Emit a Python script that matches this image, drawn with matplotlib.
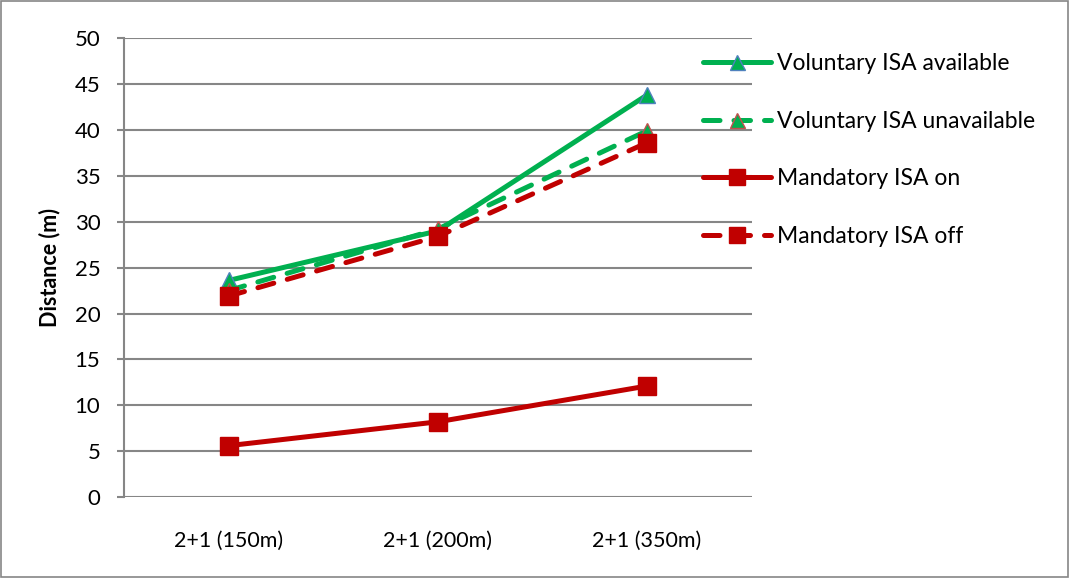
import matplotlib.pyplot as plt
from matplotlib.patches import Rectangle

# -----------------------------------------
# Data
# -----------------------------------------

categories = ["2+1 (150m)", "2+1 (200m)", "2+1 (350m)"]

voluntary_available = [23.6, 29.0, 43.8]
voluntary_unavailable = [22.5, 29.2, 39.9]
mandatory_on = [5.6, 8.2, 12.1]
mandatory_off = [21.9, 28.4, 38.6]

GREEN = "#00B050"
RED = "#C00000"
GRID = "#868686"

plt.rcParams["font.family"] = ["Lato", "DejaVu Sans"]

# -----------------------------------------
# Plot
# -----------------------------------------

fig = plt.figure(figsize=(10.69, 5.78), dpi=100)
ax = fig.add_axes([0.116, 0.140, 0.587, 0.794])

x = list(range(len(categories)))

series = [
    ("Voluntary ISA available", voluntary_available, GREEN, "-", "^", "#4F81BD", 12),
    ("Voluntary ISA unavailable", voluntary_unavailable, GREEN, "--", "^", "#C0504D", 12),
    ("Mandatory ISA on", mandatory_on, RED, "-", "s", RED, 13),
    ("Mandatory ISA off", mandatory_off, RED, "--", "s", RED, 13),
]

for label, values, color, ls, marker, edge, ms in series:
    line, = ax.plot(x, values, color=color, lw=3.6, marker=marker,
                    markersize=ms, markerfacecolor=color,
                    markeredgecolor=edge, markeredgewidth=1.0,
                    solid_capstyle="round", dash_capstyle="round",
                    label=label, zorder=3)
    if ls == "--":
        line.set_dashes((3.3, 2.8))

ax.set_xlim(-0.5, 2.5)
ax.set_ylim(0, 50)
ax.set_yticks(range(0, 51, 5))
ax.set_xticks(x)
ax.set_xticklabels(categories)

ax.yaxis.grid(True, color=GRID, lw=1.5)
ax.set_axisbelow(True)
for side in ["top", "right", "bottom"]:
    ax.spines[side].set_visible(False)
ax.spines["left"].set_color(GRID)
ax.spines["left"].set_linewidth(1.5)

ax.tick_params(axis="y", length=5, width=1.5, color=GRID, labelsize=16, pad=12)
ax.tick_params(axis="x", length=0, labelsize=15.5, pad=24)

ax.set_ylabel("Distance (m)", fontsize=15.5, fontweight="bold", labelpad=10)

fig.legend(loc="upper left", bbox_to_anchor=(0.638, 0.944), frameon=False,
           fontsize=16.5, handlelength=3.0, handletextpad=0.25,
           labelspacing=1.6, markerscale=0.9)

# thin border round the whole figure
fig.patches.append(Rectangle((0.001, 0.001), 0.998, 0.997, transform=fig.transFigure,
                             fill=False, edgecolor=GRID, lw=1.2))

fig.savefig("out.png", dpi=100)
